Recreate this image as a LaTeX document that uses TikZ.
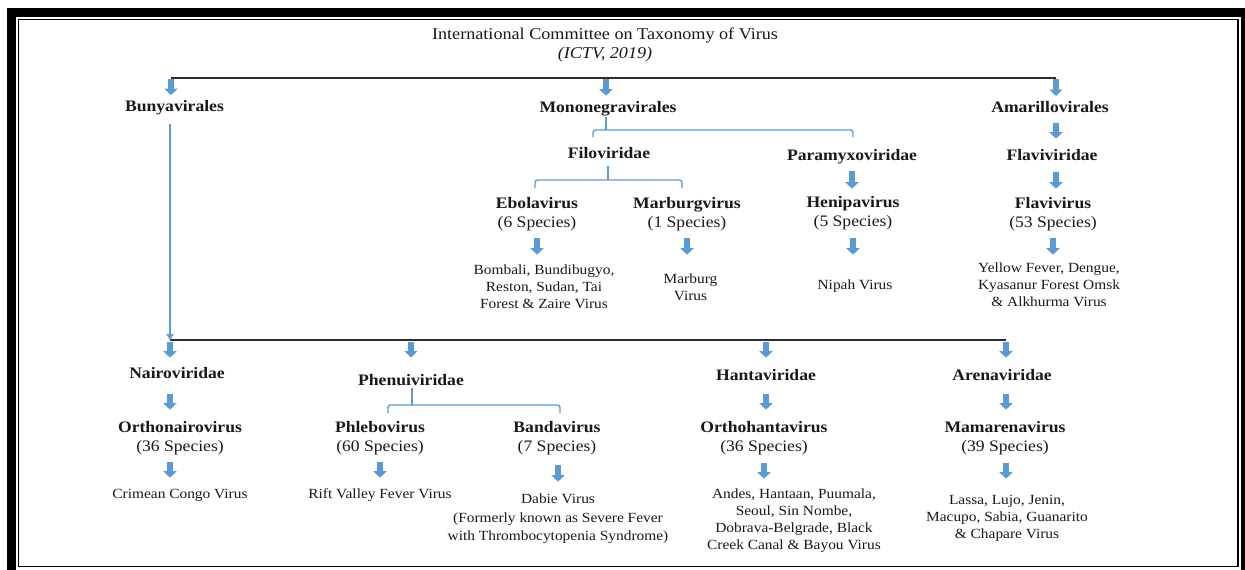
\documentclass[tikz,border=0pt]{standalone}
\usepackage{fontspec}
\setmainfont{Liberation Serif}[FakeStretch=1.1]
\usetikzlibrary{arrows.meta,calc}
\definecolor{arrblue}{RGB}{91,155,213}
\definecolor{txt}{RGB}{25,25,25}
\definecolor{lineblk}{RGB}{45,45,45}
\newcommand\blkarrow[5]{\draw[barrow] ($(#1 |- #2.south)+(0,#4)$) -- ($(#1 |- #3.north)+(0,-#5)$);}
\begin{document}
\begin{tikzpicture}[x=1pt,y=-1pt,
  barrow/.style={draw=arrblue, line width=5.5pt, -{Triangle[width=13pt,length=6.5pt]}},
  bline/.style={draw=arrblue, line width=1.4pt, rounded corners=2.5pt},
  vline/.style={draw=arrblue, line width=2.2pt, -{Triangle[width=7pt,length=6pt]}},
  kline/.style={draw=lineblk, line width=1.8pt},
  nm/.style={anchor=north, inner sep=0pt, text=txt, font=\fontsize{16}{19}\selectfont\bfseries},
  sp/.style={anchor=north, inner sep=0pt, text=txt, align=center, font=\fontsize{16}{19}\selectfont},
  lst/.style={anchor=north, inner sep=0pt, text=txt, align=center, font=\fontsize{14}{17}\selectfont},
  tit/.style={anchor=north, inner sep=0pt, text=txt, align=center, font=\fontsize{16.5}{19}\selectfont}]
\useasboundingbox (0,0) rectangle (1245,570);
% frame
\fill[black] (7,8) rectangle (1245,570);
\fill[white] (16,17) rectangle (1241,570);
\draw[black, line width=1.4pt] (18.2,19.2) rectangle (1237.8,566.6);

% title
\node[tit] (title) at (605,27.9) {International Committee on Taxonomy of Virus\\\textit{(ICTV, 2019)}};

% upper part
\node[nm] (bun) at (174.5,100.2) {Bunyavirales};
\node[nm] (mono) at (608,100.7) {Mononegravirales};
\node[nm] (ama) at (1050,101) {Amarillovirales};
\node[nm] (filo) at (609,147.2) {Filoviridae};
\node[nm] (para) at (852,149.2) {Paramyxoviridae};
\node[nm] (flavd) at (1052,149.2) {Flaviviridae};
\node[sp] (ebo) at (537,197.2) {\textbf{Ebolavirus}\\(6 Species)};
\node[sp] (mar) at (687,197.2) {\textbf{Marburgvirus}\\(1 Species)};
\node[sp] (heni) at (853,196.2) {\textbf{Henipavirus}\\(5 Species)};
\node[sp] (flav) at (1053,197.2) {\textbf{Flavivirus}\\(53 Species)};
\node[lst] (ebol) at (544,264.7) {Bombali, Bundibugyo,\\Reston, Sudan, Tai\\Forest \& Zaire Virus};
\node[lst] (marl) at (690.5,273.7) {Marburg\\Virus};
\node[lst] (nipah) at (855,279.7) {Nipah Virus};
\node[lst] (flavl) at (1049,262.7) {Yellow Fever, Dengue,\\Kyasanur Forest Omsk\\\& Alkhurma Virus};

% lower part
\node[nm] (nairo) at (177,367.2) {Nairoviridae};
\node[nm] (phen) at (411,374.5) {Phenuiviridae};
\node[nm] (hanta) at (766,369.2) {Hantaviridae};
\node[nm] (arena) at (1002,369.2) {Arenaviridae};
\node[sp] (orthon) at (180,421.2) {\textbf{Orthonairovirus}\\(36 Species)};
\node[sp] (phle) at (380,421.2) {\textbf{Phlebovirus}\\(60 Species)};
\node[sp] (banda) at (557,421.2) {\textbf{Bandavirus}\\(7 Species)};
\node[sp] (ortho) at (764,421.2) {\textbf{Orthohantavirus}\\(36 Species)};
\node[sp] (mama) at (1005,421.2) {\textbf{Mamarenavirus}\\(39 Species)};
\node[lst] (crim) at (180,488.7) {Crimean Congo Virus};
\node[lst] (rift) at (380,488.7) {Rift Valley Fever Virus};
\node[lst, font=\fontsize{14}{18.5}\selectfont] (dabie) at (558,493.7) {Dabie Virus\\(Formerly known as Severe Fever\\with Thrombocytopenia Syndrome)};
\node[lst] (hantl) at (794,488.7) {Andes, Hantaan, Puumala,\\Seoul, Sin Nombe,\\Dobrava-Belgrade, Black\\Creek Canal \& Bayou Virus};
\node[lst] (arenal) at (1007,494.7) {Lassa, Lujo, Jenin,\\Macupo, Sabia, Guanarito\\\& Chapare Virus};

% junction coordinates
\coordinate (tl1) at (171,78);
\coordinate (tl2) at (606,78);
\coordinate (tl3) at (1056,78);
\coordinate (bl1) at (170,340);
\coordinate (bl2) at (411,340);
\coordinate (bl3) at (766,340);
\coordinate (bl4) at (1006,340);
\coordinate (mj) at (606,130);
\coordinate (mL) at (593,137);
\coordinate (mR) at (853,137);
\coordinate (fj) at (608,180);
\coordinate (fL) at (535,188);
\coordinate (fR) at (682,188);
\coordinate (pj) at (412,405);
\coordinate (pL) at (388,413);
\coordinate (pR) at (560,413);

% black trunk lines
\draw[kline] (tl1) -- (tl3);
\draw[kline] (bl1) -- (bl4);

% arrows from top line
\draw[barrow] ($(tl1)+(0,1)$) -- ($(tl1 |- bun.north)+(0,-5)$);
\draw[barrow] ($(tl2)+(0,1)$) -- ($(tl2 |- mono.north)+(0,-5)$);
\draw[barrow] ($(tl3)+(0,1)$) -- ($(tl3 |- ama.north)+(0,-5)$);

% Bunyavirales trunk
\draw[vline] ($(bl1 |- bun.south)+(0,9)$) -- (bl1);

% brackets
\draw[bline] ($(mj |- mono.south)+(0,1)$) -- (mj);
\draw[bline] (mL) -- (mL |- mj) -- (mR |- mj) -- (mR);
\draw[bline] ($(fj |- filo.south)+(0,7)$) -- (fj);
\draw[bline] (fL) -- (fL |- fj) -- (fR |- fj) -- (fR);
\draw[bline] ($(pj |- phen.south)+(0,1.5)$) -- (pj);
\draw[bline] (pL) -- (pL |- pj) -- (pR |- pj) -- (pR);

% upper block arrows
\blkarrow{tl3}{ama}{flavd}{10.5}{10.5}
\blkarrow{tl3}{flavd}{flav}{11}{8.5}
\blkarrow{para}{para}{heni}{7}{7.5}
\blkarrow{ebo}{ebo}{ebol}{7}{10}
\blkarrow{mar}{mar}{marl}{7}{19}
\blkarrow{heni}{heni}{nipah}{8}{25}
\blkarrow{flav}{flav}{flavl}{7}{8}

% lower block arrows
\draw[barrow] ($(bl1)+(0,2)$) -- ($(bl1 |- nairo.north)+(0,-9.5)$);
\draw[barrow] ($(bl2)+(0,2)$) -- ($(bl2 |- phen.north)+(0,-17)$);
\draw[barrow] ($(bl3)+(0,2)$) -- ($(bl3 |- hanta.north)+(0,-11.5)$);
\draw[barrow] ($(bl4)+(0,2)$) -- ($(bl4 |- arena.north)+(0,-11.5)$);
\blkarrow{bl1}{nairo}{orthon}{15.5}{11.5}
\blkarrow{bl3}{hanta}{ortho}{13.5}{11.5}
\blkarrow{bl4}{arena}{mama}{13.5}{11.5}
\blkarrow{bl1}{orthon}{crim}{7}{11}
\blkarrow{phle}{phle}{rift}{7}{11}
\blkarrow{dabie}{banda}{dabie}{10}{12}
\blkarrow{ortho}{ortho}{hantl}{8}{10}
\blkarrow{bl4}{mama}{arenal}{8}{16}
\end{tikzpicture}
\end{document}
